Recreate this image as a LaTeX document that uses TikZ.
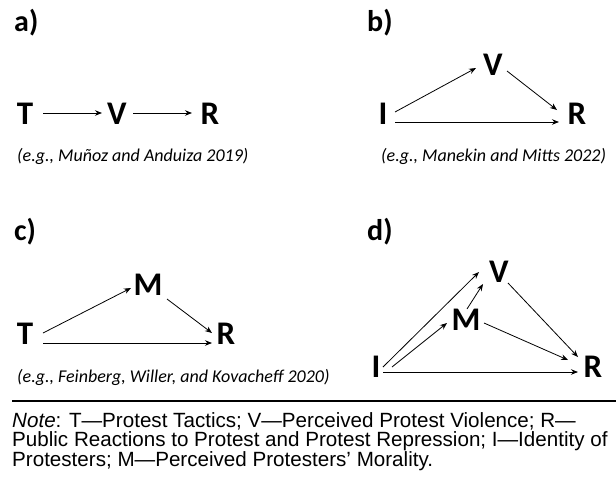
\documentclass[tikz,border=0pt]{standalone}
\usepackage{fontspec}
\setmainfont{Carlito}
\newfontfamily\notefont{Liberation Sans}
\usetikzlibrary{arrows.meta}
\tikzset{
    var/.style = {font = \fontsize{33}{33}\selectfont\bfseries, inner sep = 0pt},
    panel/.style = {font = \fontsize{30}{30}\selectfont\bfseries, anchor = west, inner sep = 0pt},
    cite/.style = {font = \fontsize{18}{18}\selectfont\itshape, anchor = west, inner sep = 0pt},
    link/.style = {-{Stealth[length = 7pt, width = 5.5pt]}, line width = 0.8pt}
}
\begin{document}
\begin{tikzpicture}[x = 1pt, y = -1pt]
                \useasboundingbox (0,0) rectangle (616,491);
                \begin{scope}[every node/.append style = {panel}]
                    \node (la) at (14,23) {a)};
                    \node (lb) at (367,23) {b)};
                    \node (lc) at (14,232) {c)};
                    \node (ld) at (367,232) {d)};
                \end{scope}
                \begin{scope}[every node/.append style = {var}]
                    \node (Ta) at (25,114) {T};
                    \node (Va) at (117,114) {V};
                    \node (Ra) at (210,114) {R};
                    \node (Ib) at (383,114) {I};
                    \node (Vb) at (493,65) {V};
                    \node (Rb) at (577,114) {R};
                    \node (Tc) at (25,334) {T};
                    \node (Mc) at (148,285) {M};
                    \node (Rc) at (226,334) {R};
                    \node (Id) at (376,367) {I};
                    \node (Vd) at (499,272) {V};
                    \node (Md) at (466,320) {M};
                    \node (Rd) at (593,367) {R};
                \end{scope}
                \begin{scope}[every node/.append style = {cite}]
                    \node (ca) at (17,156) {(e.g., Muñoz and Anduiza 2019)};
                    \node (cb) at (381,156) {(e.g., Manekin and Mitts 2022)};
                    \node (cc) at (17,377) {(e.g., Feinberg, Willer, and Kovacheff 2020)};
                \end{scope}
                \begin{scope}[style = link]
                    \draw ([shift = {(18,-1)}]Ta.center) -- ([shift = {(-15,-1)}]Va.center);
                    \draw ([shift = {(16,-1)}]Va.center) -- ([shift = {(-18,-1)}]Ra.center);
                    \draw ([shift = {(12,-2)}]Ib.center) -- ([shift = {(-17,3)}]Vb.center);
                    \draw ([shift = {(14,6)}]Vb.center) -- ([shift = {(-20,-4)}]Rb.center);
                    \draw ([shift = {(12,8)}]Ib.center) -- ([shift = {(-18,8)}]Rb.center);
                    \draw ([shift = {(18,-1)}]Tc.center) -- ([shift = {(-17,3)}]Mc.center);
                    \draw ([shift = {(19,14)}]Mc.center) -- ([shift = {(-14,-1)}]Rc.center);
                    \draw ([shift = {(18,9)}]Tc.center) -- ([shift = {(-14,9)}]Rc.center);
                    \draw ([shift = {(7,0)}]Id.center) -- ([shift = {(-20,0)}]Vd.center);
                    \draw ([shift = {(16,0)}]Id.center) -- ([shift = {(-19,3)}]Md.center);
                    \draw ([shift = {(1,-11)}]Md.center) -- ([shift = {(-16,12)}]Vd.center);
                    \draw ([shift = {(9,11)}]Vd.center) -- ([shift = {(-15,-10)}]Rd.center);
                    \draw ([shift = {(18,3)}]Md.center) -- ([shift = {(-25,-7)}]Rd.center);
                    \draw ([shift = {(7,5)}]Id.center) -- ([shift = {(-15,5)}]Rd.center);
                \end{scope}
                \draw[line width = 2pt] (12,401) -- (616,401);
                \node[anchor = north west, inner sep = 0pt, align = left,
                    font = \notefont\fontsize{20.6}{19.5}\selectfont] (note) at (12,412)
                    {\textit{Note}: T—Protest Tactics; V—Perceived Protest Violence; R—\\
                    Public Reactions to Protest and Protest Repression; I—Identity of\\
                    Protesters; M—Perceived Protesters’ Morality.};
            \end{tikzpicture}
\end{document}
